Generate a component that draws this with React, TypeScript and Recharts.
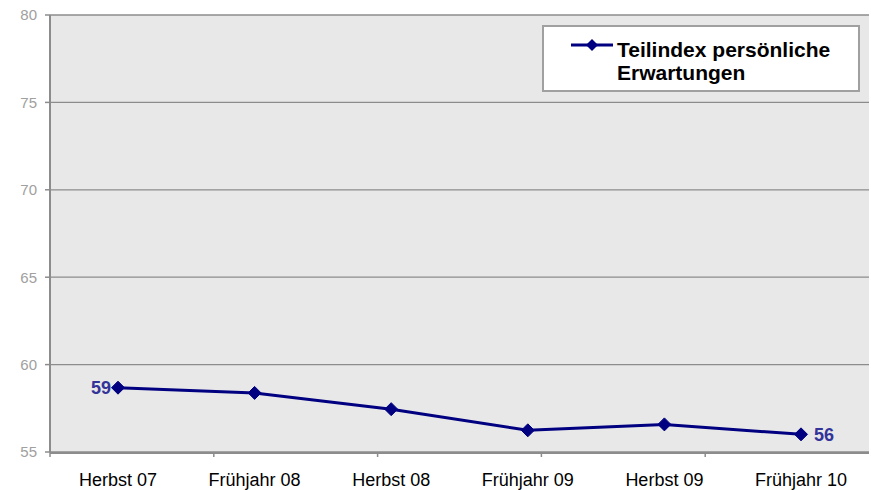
import React from "react";
import {
  LineChart,
  Line,
  XAxis,
  YAxis,
  CartesianGrid,
  Legend,
  LabelList,
} from "recharts";

const categories = ["Herbst 07", "Frühjahr 08", "Herbst 08", "Frühjahr 09", "Herbst 09", "Frühjahr 10"];
const values = [58.68, 58.38, 57.45, 56.24, 56.58, 56.01];
const pointLabels = ["59", "", "", "", "", "56"];
const yTicks = [55, 60, 65, 70, 75, 80];
const boundaryTicks = [0, 1, 2, 3, 4, 5, 6];
const seriesName = "Teilindex persönliche Erwartungen";

const data = categories.map((c, i) => ({ cat: c, v: values[i], lbl: pointLabels[i] }));

const NAVY = "#000080";
const GRID = "#8c8c8c";
const FONT = "'Liberation Sans', Arial, sans-serif";

const Diamond = (props: any) => {
  const { cx, cy, index } = props;
  if (cx == null || cy == null) return null;
  const r = 6.5;
  return (
    <polygon
      key={"d" + index}
      points={`${cx},${cy - r} ${cx + r},${cy} ${cx},${cy + r} ${cx - r},${cy}`}
      fill={NAVY}
      stroke={NAVY}
    />
  );
};

const renderLabel = (props: any) => {
  const value = props.value;
  if (!value) return null;
  const vb = props.viewBox || {};
  const x = props.x != null ? props.x : vb.x;
  const y = props.y != null ? props.y : vb.y;
  const first = props.index === 0;
  return (
    <text
      x={x + (first ? -7 : 13)}
      y={y}
      dy="0.36em"
      textAnchor={first ? "end" : "start"}
      fontFamily={FONT}
      fontSize={18}
      fontWeight="bold"
      fill="#333399"
    >
      {value}
    </text>
  );
};

const LegendBox = () => (
  <div
    style={{
      position: "relative",
      boxSizing: "border-box",
      width: 318,
      height: 67,
      background: "#ffffff",
      border: "2px solid #a0a0a0",
      fontFamily: FONT,
    }}
  >
    <svg style={{ position: "absolute", left: 27, top: 11 }} width={42} height={14}>
      <line x1={0} y1={7} x2={42} y2={7} stroke={NAVY} strokeWidth={3} />
      <polygon points="21,1 27,7 21,13 15,7" fill={NAVY} />
    </svg>
    <div
      style={{
        position: "absolute",
        left: 73,
        top: 11,
        width: 240,
        fontSize: 21,
        lineHeight: "23px",
        fontWeight: "bold",
        color: "#000",
      }}
    >
      {seriesName}
    </div>
  </div>
);

export default function App() {
  return (
    <div style={{ position: "absolute", left: 0, top: 0, width: 871, height: 490, background: "#fff" }}>
      <LineChart
        width={871}
        height={490}
        data={data}
        margin={{ top: 15, right: 2, bottom: 7, left: 0 }}
      >
        <CartesianGrid
          vertical={false}
          fill="#e8e8e8"
          stroke={GRID}
          strokeWidth={1.3}
          yAxisId="l"
          xAxisId="m"
        />
        <XAxis
          xAxisId="a"
          type="number"
          domain={[0, 6]}
          ticks={boundaryTicks}
          allowDataOverflow
          height={1}
          axisLine={false}
          tickLine={{ stroke: GRID, strokeWidth: 1.5 }}
          tickSize={5}
          tick={{ fontSize: 0 }}
          tickFormatter={() => ""}
        />
        <XAxis
          xAxisId="m"
          dataKey="cat"
          height={30}
          padding={{ left: 68, right: 68 }}
          axisLine={{ stroke: GRID, strokeWidth: 2 }}
          tickLine={false}
          tickSize={0}
          tickMargin={20}
          interval={0}
          tick={{ fill: "#000", fontSize: 18, fontFamily: FONT }}
        />
        <YAxis
          yAxisId="l"
          width={50}
          domain={[55, 80]}
          ticks={yTicks}
          interval={0}
          axisLine={{ stroke: GRID, strokeWidth: 2 }}
          tickLine={{ stroke: GRID, strokeWidth: 1.5 }}
          tickSize={5}
          tickMargin={8}
          tick={{ fill: "#a0a0a0", fontSize: 15, fontFamily: FONT }}
        />
        <YAxis
          yAxisId="r"
          orientation="right"
          width={0}
          domain={[55, 80]}
          tick={false}
          tickLine={false}
          axisLine={{ stroke: GRID, strokeWidth: 2 }}
        />
        <Legend
          layout="horizontal"
          verticalAlign="middle"
          align="center"
          wrapperStyle={{ left: 542, top: 25, width: 318, height: 67 }}
          content={() => <LegendBox />}
        />
        <Line
          xAxisId="m"
          yAxisId="l"
          dataKey="v"
          name={seriesName}
          stroke={NAVY}
          strokeWidth={3}
          dot={Diamond}
          activeDot={false}
          isAnimationActive={false}
        >
          <LabelList dataKey="lbl" content={renderLabel} />
        </Line>
      </LineChart>
    </div>
  );
}
